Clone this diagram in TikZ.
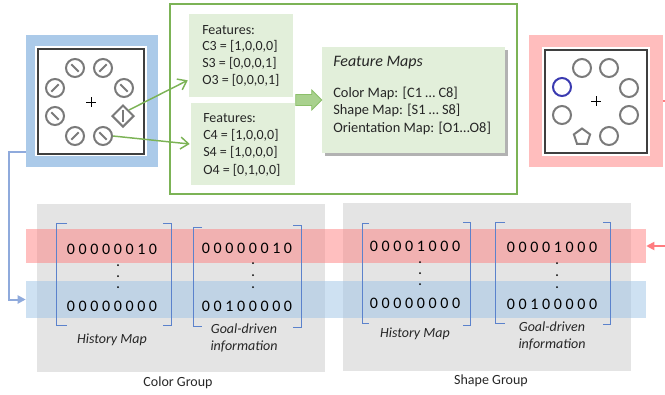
\documentclass[tikz,border=0pt]{standalone}
\usepackage{fontspec}
\setmainfont{Carlito}
\usetikzlibrary{shapes.geometric, arrows.meta, calc, shadows}

\definecolor{panelblue}{HTML}{ABCAE9}
\definecolor{panelpink}{HTML}{FFBDBD}
\definecolor{framegray}{HTML}{3F3F3F}
\definecolor{stimgray}{HTML}{7A7A7A}
\definecolor{stimblue}{HTML}{3A3AB0}
\definecolor{framegreen}{HTML}{7CB356}
\definecolor{boxgreen}{HTML}{E2EFDA}
\definecolor{arrowgreen}{HTML}{A9D18E}
\definecolor{arrowgreendark}{HTML}{8CBF6A}
\definecolor{groupgray}{HTML}{E4E4E4}
\definecolor{bandred}{HTML}{FF8080}
\definecolor{bandblue}{HTML}{9DC3E6}
\definecolor{bracketblue}{HTML}{5B82CC}
\definecolor{connblue}{HTML}{8FAADC}
\definecolor{connred}{HTML}{FF7C80}
\definecolor{textdark}{HTML}{262626}

\begin{document}
\begin{tikzpicture}[x=0.75pt, y=-0.75pt,
  stim/.style={circle, draw=stimgray, line width=1.5pt, minimum size=13.5pt, inner sep=0pt},
  tiltl/.style={path picture={\draw[stimgray, line width=1.5pt]
      ([shift={(-2.8pt,2.8pt)}]path picture bounding box.center) --
      ([shift={(2.8pt,-2.8pt)}]path picture bounding box.center);}},
  tiltr/.style={path picture={\draw[stimgray, line width=1.5pt]
      ([shift={(-2.8pt,-2.8pt)}]path picture bounding box.center) --
      ([shift={(2.8pt,2.8pt)}]path picture bounding box.center);}},
  panel/.style={rectangle, inner sep=0pt, minimum height=99pt},
  featbox/.style={fill=boxgreen, inner sep=0pt},
  feattext/.style={anchor=west, align=left, inner sep=0pt, text=textdark},
  garrow/.style={draw=framegreen, line width=1.1pt, -{Straight Barb[length=6pt, width=9pt]}},
  group/.style={fill=groupgray, inner sep=0pt, minimum width=216pt, minimum height=126pt},
  band/.style={inner sep=0pt, minimum width=465pt, fill opacity=0.5},
  bracket/.style={draw=bracketblue, line width=0.65pt},
  bits/.style={font=\fontsize{12}{14}\selectfont, inner sep=0pt, text=black},
  vdot/.style={circle, fill=black, inner sep=0pt, minimum size=1.5pt},
  caption/.style={font=\fontsize{10.5}{12.75}\selectfont\itshape, align=center, inner sep=0pt, text=textdark},
  grouplabel/.style={font=\fontsize{10.5}{12.75}\selectfont, inner sep=0pt, text=textdark}
]
\useasboundingbox (0,0) rectangle (665,394);

% ---------- left stimulus panel ----------
\node[panel, fill=panelblue, minimum width=99pt] (lp) at (92,101) {};
\fill[white] (35,46) rectangle (147,156);
\draw[framegray, line width=1.5pt] (38,49) rectangle (144,154);
\draw[line width=0.7pt] (86,102) -- (96,102) (91,97) -- (91,107);
\node[stim, tiltl] (l1) at (75,68) {};
\node[stim, tiltr] (l2) at (103,68) {};
\node[stim, tiltr] (l3) at (55,88) {};
\node[stim, tiltl] (l4) at (124,88) {};
\node[stim, tiltl] (l5) at (55,116) {};
\node[diamond, draw=stimgray, line width=1.5pt, minimum width=16.5pt, minimum height=16.5pt, inner sep=0pt] (dia) at (123,116) {};
\draw[stimgray, line width=1.5pt] (dia.center) ++(0,-6) -- ++(0,12);
\node[stim, tiltr] (l7) at (75,136) {};
\node[stim, tiltl] (l8) at (103,136) {};

% ---------- right stimulus panel ----------
\node[panel, fill=panelpink, minimum width=100.5pt] (rp) at (596,101) {};
\fill[white] (542,47) rectangle (650,156);
\draw[framegray, line width=1.5pt] (545,50) rectangle (647,153);
\draw[line width=0.7pt] (591,101) -- (601,101) (596,96) -- (596,106);
\node[stim] (r1) at (582,68) {};
\node[stim] (r2) at (609,68) {};
\node[stim, draw=stimblue] (r3) at (562,87) {};
\node[stim] (r4) at (629,88) {};
\node[stim] (r5) at (562,115) {};
\node[stim] (r6) at (629,115) {};
\node[regular polygon, regular polygon sides=5, draw=stimgray, line width=1.5pt, minimum size=12.75pt, inner sep=0pt] (r7) at (582,137) {};
\node[stim] (r8) at (609,136) {};

% ---------- feature extraction frame ----------
\node[draw=framegreen, line width=1.1pt, inner sep=0pt, minimum width=260.25pt, minimum height=142.5pt] (fr) at (343.5,99) {};

\node[featbox, minimum width=78pt, minimum height=62.25pt] (f1) at (241,55.5) {};
\node[feattext, font=\fontsize{10.5}{12.5}\selectfont] (f1t) at (202,55.5)
  {Features:\\C3 = [1,0,0,0]\\S3 = [0,0,0,1]\\O3 = [0,0,0,1]};
\node[featbox, minimum width=78pt, minimum height=61.5pt] (f2) at (243,144) {};
\node[feattext, font=\fontsize{10.5}{13}\selectfont] (f2t) at (203,144.5)
  {Features:\\C4 = [1,0,0,0]\\S4 = [1,0,0,0]\\O4 = [0,1,0,0]};

\node[featbox, minimum width=137.25pt, minimum height=79.5pt,
      drop shadow={shadow xshift=2.2pt, shadow yshift=-2.2pt, fill=black, opacity=0.3}] (fm) at (413.5,100) {};
\node[anchor=west, inner sep=0pt, text=textdark, font=\fontsize{12}{14}\selectfont\itshape] (fmt) at (333,63) {Feature Maps};
\node[feattext, font=\fontsize{10.8}{13.1}\selectfont] (fml) at (333,110.5)
  {Color Map: [C1 … C8]\\Shape Map: [S1 … S8]\\Orientation Map: [O1…O8]};

% block arrow into the feature maps
\filldraw[fill=arrowgreen, draw=arrowgreendark, line width=0.6pt, shift={(fm.west)}]
  (0,0) -- (-10,-10) -- (-10,-5.5) -- (-26,-5.5) -- (-26,5.5) -- (-10,5.5) -- (-10,10) -- cycle;

% stimuli to their feature vectors
\draw[garrow] (dia.north east) -- ($(f1.south west)+(-1,-17)$);
\draw[garrow] (l8.east) -- ($(f2.west)+(-1,0)$);

% ---------- groups ----------
\node[group] (cg) at (181,288) {};
\node[group] (sg) at (487,287) {};

\node[band, fill=bandred, minimum height=25.5pt] (rb) at (336,246) {};
\node[band, fill=bandblue, minimum height=27.75pt] (bb) at (336,299.5) {};

% brackets: colour group
\draw[bracket] (67,223) -- (56,223) -- (56,325) -- (67,325);
\draw[bracket] (163,223) -- (171,223) -- (171,325) -- (163,325);
\draw[bracket] (202,227) -- (193,227) -- (193,326) -- (202,326);
\draw[bracket] (293,225) -- (301,225) -- (301,327) -- (293,327);
% brackets: shape group
\draw[bracket] (369,223) -- (362,223) -- (362,323) -- (369,323);
\draw[bracket] (463,222) -- (470,222) -- (470,325) -- (463,325);
\draw[bracket] (505,222) -- (495,222) -- (495,323) -- (505,323);
\draw[bracket] (603,222) -- (610,222) -- (610,324) -- (603,324);

% colour group: history map
\node[bits] (ch1) at (112,249) {0 0 0 0 0 0 1 0};
\foreach \y in {265,276,287} \node[vdot] at (118,\y) {};
\node[bits] (ch2) at (112,306) {0 0 0 0 0 0 0 0};
\node[caption] (chl) at (112,340) {History Map};
% colour group: goal-driven information
\node[bits] (cq1) at (247,248) {0 0 0 0 0 0 1 0};
\foreach \y in {263,275,287} \node[vdot] at (253,\y) {};
\node[bits] (cq2) at (247,306) {0 0 1 0 0 0 0 0};
\node[caption] (cql) at (244,337.5) {Goal-driven\\information};
\node[grouplabel] (cgl) at (178,383) {Color Group};

% shape group: history map
\node[bits] (sh1) at (415,246) {0 0 0 0 1 0 0 0};
\foreach \y in {262,273,284} \node[vdot] at (420,\y) {};
\node[bits] (sh2) at (415,303) {0 0 0 0 0 0 0 0};
\node[caption] (shl) at (415,334) {History Map};
% shape group: goal-driven information
\node[bits] (sq1) at (552,247) {0 0 0 0 1 0 0 0};
\foreach \y in {263,275,287} \node[vdot] at (557,\y) {};
\node[bits] (sq2) at (552,304) {0 0 1 0 0 0 0 0};
\node[caption] (sql) at (552,335.5) {Goal-driven\\information};
\node[grouplabel] (sgl) at (491,381) {Shape Group};

% ---------- feedback connectors ----------
\draw[connblue, line width=1.5pt, -{Triangle[length=6pt, width=6pt]}]
  ($(lp.south west)+(0,-15)$) -- ++(-17,0) |- (bb.west);
\draw[connred, line width=1.3pt, -{Triangle[length=6pt, width=6pt]}]
  (rp.east) -- ++(14,0) |- (rb.east);
\end{tikzpicture}
\end{document}
